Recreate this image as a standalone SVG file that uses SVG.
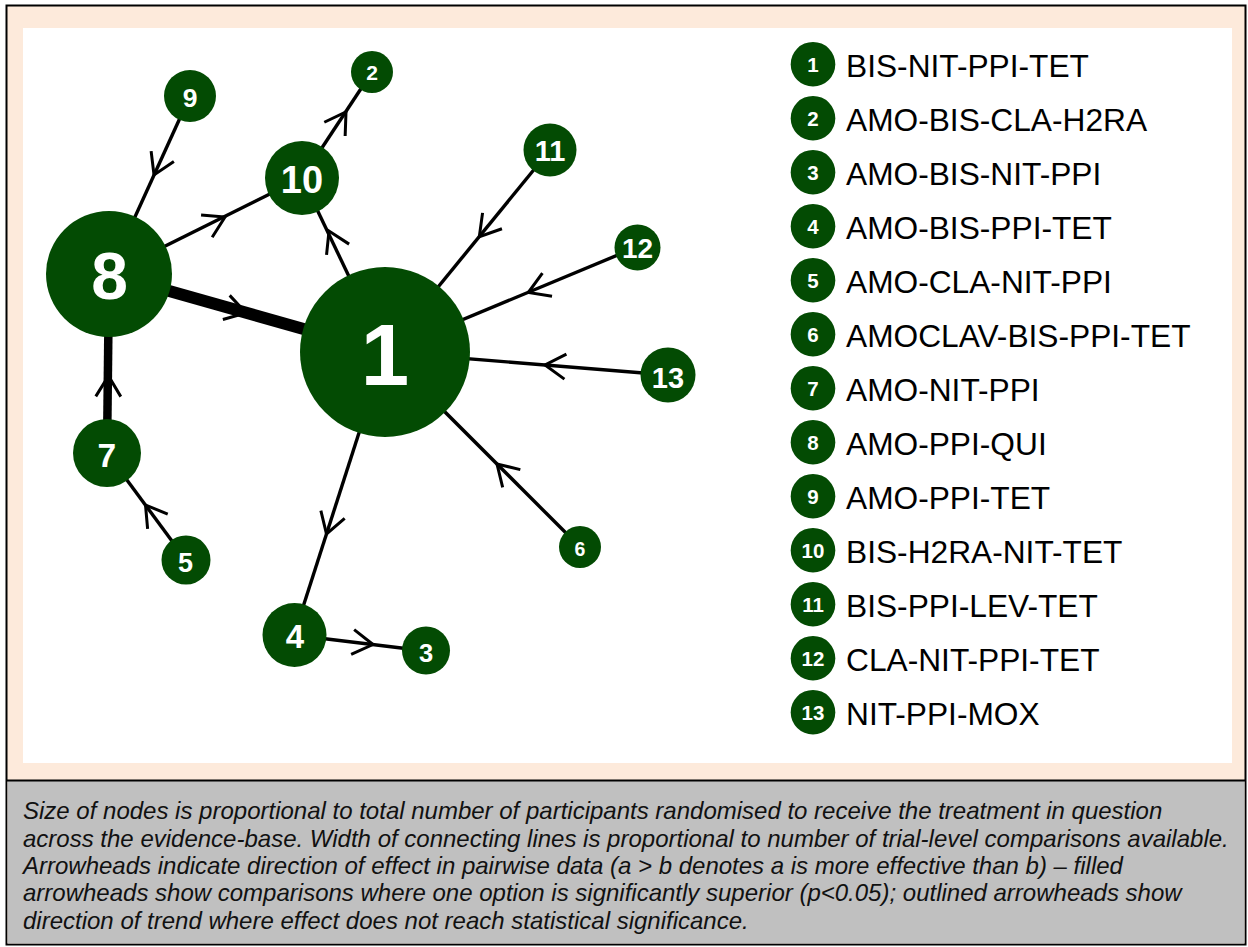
<svg xmlns="http://www.w3.org/2000/svg" xmlns:xlink="http://www.w3.org/1999/xlink" width="1248" height="947" viewBox="0 0 1248 947">
<style>
.node{fill:#034b03}
.nl{font-family:"Liberation Sans",Arial,sans-serif;font-weight:bold;fill:#fff;text-anchor:middle}
.edge{stroke:#000;stroke-width:3.4;fill:none}
.ch{stroke:#000;stroke-width:3;fill:none;stroke-linejoin:miter;stroke-miterlimit:10}
.lg{font-family:"Liberation Sans",Arial,sans-serif;font-size:31.7px;fill:#000}
.ld{font-family:"Liberation Sans",Arial,sans-serif;font-weight:bold;font-size:20.5px;fill:#fff;text-anchor:middle}
.cap{font-family:"Liberation Sans",Arial,sans-serif;font-style:italic;font-size:24px;fill:#111}
</style>
<defs>
<path id="chev" class="ch" d="M-20.5,-12.5 L0,0 L-20.5,12.5"/>
</defs>
<!-- frame -->
<rect x="6.5" y="5.5" width="1239" height="939" fill="#fdeadb" stroke="#000" stroke-width="2"/>
<rect x="23" y="28" width="1209" height="735" fill="#fff"/>
<rect x="7.5" y="781" width="1237" height="162.5" fill="#c0c0c0"/>
<line x1="6.5" y1="780.5" x2="1245.5" y2="780.5" stroke="#000" stroke-width="2"/>

<g id="connectors">
<line class="edge" x1="109" y1="274" x2="385" y2="352" style="stroke-width:12"/>
<line class="edge" x1="109" y1="274" x2="107" y2="453" style="stroke-width:8.5"/>
<line class="edge" x1="190" y1="96" x2="109" y2="274"/>
<line class="edge" x1="109" y1="274" x2="302" y2="178"/>
<line class="edge" x1="385" y1="352" x2="302" y2="178"/>
<line class="edge" x1="302" y1="178" x2="372" y2="72"/>
<line class="edge" x1="186" y1="560" x2="107" y2="453"/>
<line class="edge" x1="385" y1="352" x2="294" y2="635"/>
<line class="edge" x1="294" y1="635" x2="426" y2="651"/>
<line class="edge" x1="580" y1="547" x2="385" y2="352"/>
<line class="edge" x1="550" y1="150" x2="385" y2="352"/>
<line class="edge" x1="637" y1="247" x2="385" y2="352"/>
<line class="edge" x1="668" y1="375" x2="385" y2="352"/>
<use xlink:href="#chev" transform="translate(246,313) rotate(15.8)"/>
<use xlink:href="#chev" transform="translate(108.5,376) rotate(-89.4)"/>
<use xlink:href="#chev" transform="translate(154,175) rotate(114.5)"/>
<use xlink:href="#chev" transform="translate(225,217) rotate(-26.4)"/>
<use xlink:href="#chev" transform="translate(329,231) rotate(-115.5)"/>
<use xlink:href="#chev" transform="translate(346,112) rotate(-56.6)"/>
<use xlink:href="#chev" transform="translate(145.5,505) rotate(-126.4)"/>
<use xlink:href="#chev" transform="translate(326.5,534) rotate(107.8)"/>
<use xlink:href="#chev" transform="translate(373,644.5) rotate(6.9)"/>
<use xlink:href="#chev" transform="translate(497,464) rotate(-135)"/>
<use xlink:href="#chev" transform="translate(479.3,236.7) rotate(129.2)"/>
<use xlink:href="#chev" transform="translate(528.3,292.5) rotate(157.4)"/>
<use xlink:href="#chev" transform="translate(545,365) rotate(-175.4)"/>
</g>

<g id="node1"><circle class="node" cx="385" cy="352" r="85"/><text class="nl" x="385" y="385" font-size="87">1</text></g>
<g id="node8"><circle class="node" cx="109" cy="274" r="63"/><text class="nl" x="109.5" y="299" font-size="66">8</text></g>
<g id="node10"><circle class="node" cx="302" cy="178" r="37"/><text class="nl" x="302" y="192.5" font-size="38">10</text></g>
<g id="node2"><circle class="node" cx="372" cy="72" r="21"/><text class="nl" x="372" y="80" font-size="21">2</text></g>
<g id="node9"><circle class="node" cx="190" cy="96" r="26"/><text class="nl" x="190" y="107" font-size="26.5">9</text></g>
<g id="node11"><circle class="node" cx="550" cy="150" r="26.5"/><text class="nl" x="550" y="160.5" font-size="29">11</text></g>
<g id="node12"><circle class="node" cx="637.5" cy="247.5" r="23"/><text class="nl" x="637.5" y="258.3" font-size="28">12</text></g>
<g id="node13"><circle class="node" cx="668" cy="375" r="27.5"/><text class="nl" x="668" y="388.3" font-size="29">13</text></g>
<g id="node7"><circle class="node" cx="107" cy="453" r="34"/><text class="nl" x="106.7" y="466.7" font-size="33.5">7</text></g>
<g id="node5"><circle class="node" cx="186" cy="560" r="24.5"/><text class="nl" x="185.5" y="571.7" font-size="27">5</text></g>
<g id="node4"><circle class="node" cx="294.5" cy="635" r="32"/><text class="nl" x="295" y="647.7" font-size="33">4</text></g>
<g id="node3"><circle class="node" cx="426" cy="650.5" r="24"/><text class="nl" x="426" y="661.7" font-size="25.5">3</text></g>
<g id="node6"><circle class="node" cx="580" cy="547" r="21"/><text class="nl" x="580" y="555.7" font-size="19.5">6</text></g>

<g id="legend">
<g id="leg1"><circle class="node" cx="813" cy="64.2" r="22.3"/><text class="ld" x="813" y="71.6">1</text><text class="lg" x="846" y="76.7">BIS-NIT-PPI-TET</text></g>
<g id="leg2"><circle class="node" cx="813" cy="118.2" r="22.3"/><text class="ld" x="813" y="125.6">2</text><text class="lg" x="846" y="130.7">AMO-BIS-CLA-H2RA</text></g>
<g id="leg3"><circle class="node" cx="813" cy="172.2" r="22.3"/><text class="ld" x="813" y="179.6">3</text><text class="lg" x="846" y="184.7">AMO-BIS-NIT-PPI</text></g>
<g id="leg4"><circle class="node" cx="813" cy="226.2" r="22.3"/><text class="ld" x="813" y="233.6">4</text><text class="lg" x="846" y="238.7">AMO-BIS-PPI-TET</text></g>
<g id="leg5"><circle class="node" cx="813" cy="280.2" r="22.3"/><text class="ld" x="813" y="287.6">5</text><text class="lg" x="846" y="292.7">AMO-CLA-NIT-PPI</text></g>
<g id="leg6"><circle class="node" cx="813" cy="334.2" r="22.3"/><text class="ld" x="813" y="341.6">6</text><text class="lg" x="846" y="346.7">AMOCLAV-BIS-PPI-TET</text></g>
<g id="leg7"><circle class="node" cx="813" cy="388.2" r="22.3"/><text class="ld" x="813" y="395.6">7</text><text class="lg" x="846" y="400.7">AMO-NIT-PPI</text></g>
<g id="leg8"><circle class="node" cx="813" cy="442.2" r="22.3"/><text class="ld" x="813" y="449.6">8</text><text class="lg" x="846" y="454.7">AMO-PPI-QUI</text></g>
<g id="leg9"><circle class="node" cx="813" cy="496.2" r="22.3"/><text class="ld" x="813" y="503.6">9</text><text class="lg" x="846" y="508.7">AMO-PPI-TET</text></g>
<g id="leg10"><circle class="node" cx="813" cy="550.2" r="22.3"/><text class="ld" x="813" y="557.6">10</text><text class="lg" x="846" y="562.7">BIS-H2RA-NIT-TET</text></g>
<g id="leg11"><circle class="node" cx="813" cy="604.2" r="22.3"/><text class="ld" x="813" y="611.6">11</text><text class="lg" x="846" y="616.7">BIS-PPI-LEV-TET</text></g>
<g id="leg12"><circle class="node" cx="813" cy="658.2" r="22.3"/><text class="ld" x="813" y="665.6">12</text><text class="lg" x="846" y="670.7">CLA-NIT-PPI-TET</text></g>
<g id="leg13"><circle class="node" cx="813" cy="712.2" r="22.3"/><text class="ld" x="813" y="719.6">13</text><text class="lg" x="846" y="724.7">NIT-PPI-MOX</text></g>
</g>

<g id="caption">
<text class="cap" x="23" y="819.3">Size of nodes is proportional to total number of participants randomised to receive the treatment in question</text>
<text class="cap" x="23" y="846.6">across the evidence-base. Width of connecting lines is proportional to number of trial-level comparisons available.</text>
<text class="cap" x="23" y="874">Arrowheads indicate direction of effect in pairwise data (a &gt; b denotes a is more effective than b) – filled</text>
<text class="cap" x="23" y="901.4">arrowheads show comparisons where one option is significantly superior (p&lt;0.05); outlined arrowheads show</text>
<text class="cap" x="23" y="928.7">direction of trend where effect does not reach statistical significance.</text>
</g>
</svg>
